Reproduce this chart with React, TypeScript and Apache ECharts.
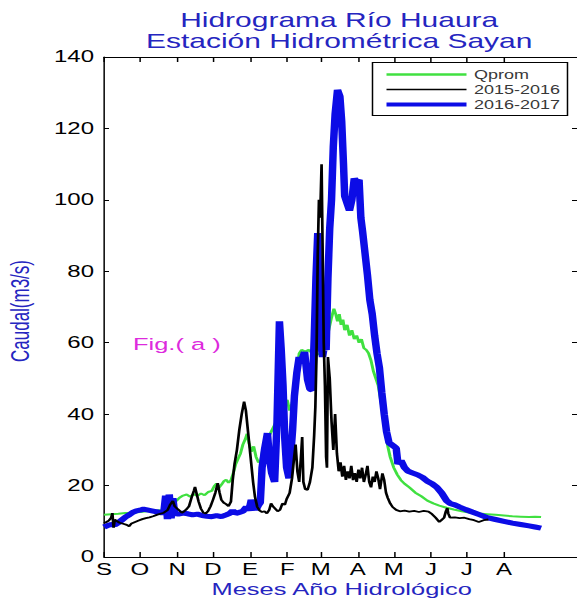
import React, { useEffect, useRef } from "react";
import * as echarts from "echarts";

// Month ticks of the hydrological year (day index from 1 September)
const monthDays = [0, 30, 61, 91, 122, 153, 181, 212, 242, 273, 303, 334];
const monthLabels = ["S", "O", "N", "D", "E", "F", "M", "A", "M", "J", "J", "A"];

const seriesNames = ["Qprom", "2015-2016", "2016-2017"];

// [day, caudal m3/s]
const qpromData = [
  [0, 11.8], [6, 12.0], [12, 12.1], [18, 12.3], [24, 12.4], [30, 12.6], [36, 12.8], [42, 12.9],
  [48, 13.2], [51, 13.8], [53, 14.8], [55, 15.5], [57, 16.2], [59, 15.4], [61, 15.9], [63, 16.6],
  [66, 17.2], [69, 17.5], [72, 16.9], [75, 17.6], [78, 17.1], [81, 17.8], [84, 17.3], [87, 18.2],
  [90, 18.5], [92, 19.8], [94, 20.6], [96, 19.4], [98, 20.2], [100, 21.2], [102, 21.6], [104, 20.8],
  [106, 21.5], [108, 23.5], [110, 26], [112, 27.5], [114, 29], [116, 31.5], [118, 33], [119.5, 34.5],
  [121, 32], [123, 29.5], [125, 31], [127, 28], [129, 26.5], [131, 27], [132.5, 30], [135, 32],
  [138, 34], [141, 36], [144, 38], [147, 40], [150, 42], [153, 44], [155, 41], [157, 43], [159, 46],
  [161, 52], [163, 57], [165, 58], [168, 57.5], [171, 58], [174, 57], [177, 56.5], [180, 57],
  [183, 58], [186, 61], [188, 64], [190, 67], [192, 69.5], [193.5, 68], [195, 66], [196.5, 68],
  [198, 65], [199.5, 66.5], [201, 63.5], [203, 65], [205, 62], [207, 63.5], [209, 61], [211, 62],
  [213, 60], [215, 61], [217, 58.5], [219, 58], [221, 57], [223, 55], [225, 52], [227, 50],
  [229, 48], [231, 44], [233, 40], [235, 35], [237, 31], [239, 28], [242, 25], [245, 23],
  [248, 21.5], [251, 20.5], [255, 19.5], [260, 18], [265, 17], [270, 15.8], [275, 15], [280, 14.4],
  [286, 13.8], [292, 13.3], [299, 12.8], [306, 12.4], [313, 12.2], [320, 12], [327, 11.8],
  [334, 11.6], [341, 11.4], [348, 11.3], [355, 11.2], [360, 11.3], [365, 11.2],
];

const data2015 = [
  [0, 9.5], [2, 9.8], [4, 10.2], [6, 11], [7, 12.3], [8, 8.2], [9, 10.5], [11, 10], [13, 9.6],
  [16, 9.3], [19, 9.0], [21, 8.6], [23, 9.4], [26, 9.8], [29, 10.2], [32, 10.6], [35, 10.9],
  [38, 11.1], [41, 11.4], [44, 11.8], [47, 12.1], [50, 12.4], [53, 13.1], [55, 14.5], [57.5, 15.7],
  [59, 14.2], [61, 13.6], [63, 13.0], [65, 12.4], [67, 12.8], [69, 13.4], [71, 14.2], [73, 16.5],
  [75, 18.5], [76, 19.6], [77, 18.2], [79, 15.5], [81, 13.5], [83, 12.4], [85, 12.2], [87, 12.9],
  [89, 14.2], [91, 16], [93, 18], [95, 20.7], [96.5, 18], [98, 16], [100, 15.2], [102, 14.8],
  [104, 14.2], [106, 15.5], [107.5, 21.6], [109, 26], [111, 30], [113, 35.6], [115, 40], [117, 43.5],
  [118.5, 41], [120, 36], [121.5, 31], [123, 26], [124.5, 21], [126, 17], [128, 14], [130, 13],
  [132, 12.6], [134, 12.8], [136, 12.2], [138, 13.2], [139.5, 15], [141, 14.2], [143, 13.5],
  [145, 12.8], [147, 13.2], [149, 15], [151, 14.6], [152.5, 16.2], [155, 17.9], [157, 22],
  [158.5, 27], [160, 31.5], [161.5, 24], [163, 21], [164.5, 28], [165.5, 33.6], [166.5, 21],
  [168, 19], [170, 18.8], [172, 21], [174, 25], [175.5, 34], [176.5, 42], [177.5, 57], [178.5, 85],
  [179.5, 100], [180.5, 95], [181.7, 110], [182.5, 88], [183.5, 60], [184.5, 48], [185.5, 28],
  [186.2, 25], [187, 56], [188.5, 50], [190, 38], [191.5, 30], [193, 40], [194.5, 29], [196, 24],
  [197.5, 26.5], [199, 22.5], [200.5, 25.5], [202, 21.6], [203.5, 24], [205, 22], [206.5, 25.5],
  [208, 21.5], [209.5, 23.5], [211, 21], [212.5, 24.5], [214, 22], [215.5, 25], [217, 21],
  [218.5, 23], [220, 25.5], [221.5, 21], [223, 19.5], [224.5, 22.5], [226, 21], [227.5, 24],
  [229, 22], [230.5, 19], [232.5, 23.4], [234, 21.5], [235.5, 18], [237, 16.5], [239, 15],
  [241, 14], [244, 13.2], [247, 12.8], [251, 13], [255, 12.7], [259, 12.9], [263, 12.6],
  [267, 12.9], [271, 12.7], [274, 12], [277, 11], [280, 9.8], [282, 10.4], [284, 11],
  [285.5, 12.8], [286.7, 13.7], [287.5, 12.2], [289, 11], [293, 11.1], [297, 10.9], [301, 11],
  [305, 10.6], [309, 10.3], [313, 9.8], [317, 10.3], [321, 10.5],
];

const data2016 = [
  [0, 8.4], [3, 8.8], [6, 9.1], [9, 9.0], [12, 9.6], [15, 10.4], [18, 11.2], [21, 11.8], [24, 12.5],
  [27, 12.9], [30, 13.1], [33, 13.4], [36, 13.2], [39, 13.0], [42, 12.8], [45, 12.6], [48, 12.3],
  [50, 12.6], [51.5, 17.2], [53, 10.6], [54.5, 17.5], [56, 10.8], [57.5, 16.5], [59, 12.2],
  [62, 12.0], [66, 12.3], [70, 12.1], [74, 11.8], [78, 12.0], [82, 11.6], [86, 11.4], [90, 11.3],
  [94, 11.6], [98, 11.3], [102, 11.8], [105, 12.2], [107.5, 13.0], [110, 12.2], [113, 12.5],
  [116, 12.8], [119, 14.0], [121, 13.0], [123, 16.0], [125, 14.2], [127, 13.2], [129, 14.5],
  [130.5, 15.2], [132, 25], [134, 30], [136.5, 34.7], [138, 28], [140, 23.5], [142.5, 21],
  [144.5, 38], [146.5, 66], [148, 58], [149.5, 48], [151, 33], [152.5, 25], [154.5, 22],
  [157.5, 35.6], [159, 45], [161, 51.5], [163, 56], [165, 55], [167.5, 57.4], [170, 49.6],
  [172, 47], [174, 46.7], [175.5, 60.8], [177, 78], [178.5, 90.7], [179.5, 70], [181, 60],
  [182.5, 56], [184, 59], [185.5, 58], [187, 78], [188.5, 92], [190, 100], [191.5, 115],
  [193, 124], [195, 130.8], [197, 129], [198.5, 122], [200, 110], [201, 101], [203, 99], [205, 97],
  [207, 100], [209, 106], [211, 105], [213, 105.6], [214.5, 95], [216, 91], [218, 85], [220, 79],
  [222, 72], [224, 68], [226, 62], [228, 57], [230, 53], [232, 46], [234, 40], [236, 35], [238, 32],
  [240, 31.5], [242, 31], [244, 30.5], [245.5, 26], [248, 27], [251, 25], [254, 24], [258, 23.5],
  [262, 23], [266, 22.3], [270, 21.2], [274, 20.5], [278, 19.5], [282, 17.9], [286, 15.8],
  [289, 15], [293, 14.6], [297, 14], [302, 13.3], [307.5, 12.6], [314, 11.8], [320, 11],
  [327, 10.5], [334, 10], [341, 9.5], [348, 9.1], [355, 8.7], [360, 8.4], [365, 8.1],
];

const titleLines = ["Hidrograma Río Huaura", "Estación Hidrométrica Sayan"];
const yAxisTitle = "Caudal(m3/s)";
const xAxisTitle = "Meses Año Hidrológico";
const figLabel = "Fig.( a )";

// The reference is horizontally stretched; draw narrower and stretch with CSS.
const VIEW_W = 577;
const VIEW_H = 598;
const DRAW_W = 385;
const STRETCH = VIEW_W / DRAW_W;
const sx = (v: number) => v / STRETCH;

const FONT = "'Liberation Sans', Arial, Helvetica, sans-serif";
const TEXT_BLUE = "#2525c0";
const GREEN = "#40e040";
const BLUE = "#0c0ce6";
const BLACK = "#000000";

// thin bar icons imitating plain legend lines (thickness relative to width)
const lineIcon = (thick: number) => `path://M0,0H534V${thick * 10}H0Z`;

export default function App() {
  const ref = useRef<HTMLDivElement>(null);

  useEffect(() => {
    if (!ref.current) return;
    const chart = echarts.init(ref.current, null, {
      renderer: "svg",
      width: DRAW_W,
      height: VIEW_H,
    });

    const monthFormatter = (v: number) => {
      const i = monthDays.indexOf(Math.round(v));
      return i >= 0 ? monthLabels[i] : "";
    };

    const option: any = {
      animation: false,
      backgroundColor: "#ffffff",
      textStyle: { fontFamily: FONT },
      grid: {
        left: sx(104),
        right: -1,
        top: 57,
        bottom: 41,
        containLabel: false,
      },
      legend: {
        orient: "vertical",
        left: sx(372.5),
        top: 62.5,
        itemWidth: sx(80),
        itemHeight: 10,
        itemGap: 3,
        padding: [6, 5, 5, sx(14)],
        borderColor: "#000",
        borderWidth: 1,
        borderRadius: 0,
        backgroundColor: "#fff",
        data: [
          { name: seriesNames[0], icon: lineIcon(2.5), itemStyle: { color: GREEN } },
          { name: seriesNames[1], icon: lineIcon(1.6), itemStyle: { color: BLACK } },
          { name: seriesNames[2], icon: lineIcon(4), itemStyle: { color: BLUE } },
        ],
        textStyle: { fontSize: 12, color: "#383838", fontFamily: FONT },
      },
      xAxis: [
        {
          type: "value",
          min: 0,
          max: 395,
          position: "bottom",
          axisLine: { show: true, onZero: false, lineStyle: { color: "#000", width: 1 } },
          axisTick: {
            show: true,
            inside: true,
            length: 5,
            customValues: monthDays,
            lineStyle: { color: "#000" },
          },
          axisLabel: {
            show: true,
            customValues: monthDays,
            formatter: monthFormatter,
            fontSize: 16,
            color: "#000",
            margin: 4,
            fontFamily: FONT,
          },
          splitLine: { show: false },
        },
        {
          type: "value",
          min: 0,
          max: 395,
          position: "top",
          axisLine: { show: true, onZero: false, lineStyle: { color: "#000", width: 1 } },
          axisTick: {
            show: true,
            inside: true,
            length: 5,
            customValues: monthDays,
            lineStyle: { color: "#000" },
          },
          axisLabel: { show: false },
          splitLine: { show: false },
        },
      ],
      yAxis: [
        {
          type: "value",
          min: 0,
          max: 140,
          interval: 20,
          position: "left",
          axisLine: { show: true, onZero: false, lineStyle: { color: "#000", width: 1 } },
          axisTick: { show: true, inside: true, length: sx(5), lineStyle: { color: "#000" } },
          axisLabel: { fontSize: 16, color: "#000", margin: sx(10), fontFamily: FONT },
          splitLine: { show: false },
        },
        {
          type: "value",
          min: 0,
          max: 140,
          interval: 20,
          position: "right",
          axisLine: { show: true, onZero: false, lineStyle: { color: "#000", width: 1 } },
          axisTick: { show: true, inside: true, length: sx(5), lineStyle: { color: "#000" } },
          axisLabel: { show: false },
          splitLine: { show: false },
        },
      ],
      series: [
        {
          name: seriesNames[0],
          type: "line",
          data: qpromData,
          symbol: "none",
          showSymbol: false,
          lineStyle: { color: GREEN, width: 2 },
          itemStyle: { color: GREEN },
          z: 2,
        },
        {
          name: seriesNames[2],
          type: "line",
          data: data2016,
          symbol: "none",
          showSymbol: false,
          lineStyle: { color: BLUE, width: 5 },
          itemStyle: { color: BLUE },
          z: 3,
        },
        {
          name: seriesNames[1],
          type: "line",
          data: data2015,
          symbol: "none",
          showSymbol: false,
          lineStyle: { color: BLACK, width: 1.8 },
          itemStyle: { color: BLACK },
          z: 4,
        },
      ],
      graphic: [
        {
          type: "text",
          x: sx(339.2),
          y: 20.3,
          style: {
            text: titleLines[0],
            fontSize: 20,
            fontFamily: FONT,
            fill: TEXT_BLUE,
            align: "center",
            verticalAlign: "middle",
          },
        },
        {
          type: "text",
          x: sx(339.2),
          y: 40.5,
          style: {
            text: titleLines[1],
            fontSize: 20,
            fontFamily: FONT,
            fill: TEXT_BLUE,
            align: "center",
            verticalAlign: "middle",
          },
        },
        {
          type: "text",
          x: sx(20),
          y: 311,
          rotation: Math.PI / 2,
          style: {
            text: yAxisTitle,
            fontSize: 17,
            fontFamily: FONT,
            fill: TEXT_BLUE,
            align: "center",
            verticalAlign: "middle",
          },
        },
        {
          type: "text",
          x: sx(341.7),
          y: 589.5,
          style: {
            text: xAxisTitle,
            fontSize: 17,
            fontFamily: FONT,
            fill: TEXT_BLUE,
            align: "center",
            verticalAlign: "middle",
          },
        },
        {
          type: "text",
          x: sx(133),
          y: 344,
          style: {
            text: figLabel,
            fontSize: 17,
            fontFamily: FONT,
            fill: "#dd2add",
            align: "left",
            verticalAlign: "middle",
          },
        },
      ],
    };

    chart.setOption(option);
    return () => chart.dispose();
  }, []);

  return (
    <div
      ref={ref}
      style={{
        position: "fixed",
        left: 0,
        top: 0,
        width: DRAW_W,
        height: VIEW_H,
        transform: `scaleX(${STRETCH})`,
        transformOrigin: "0 0",
        background: "#fff",
      }}
    />
  );
}
